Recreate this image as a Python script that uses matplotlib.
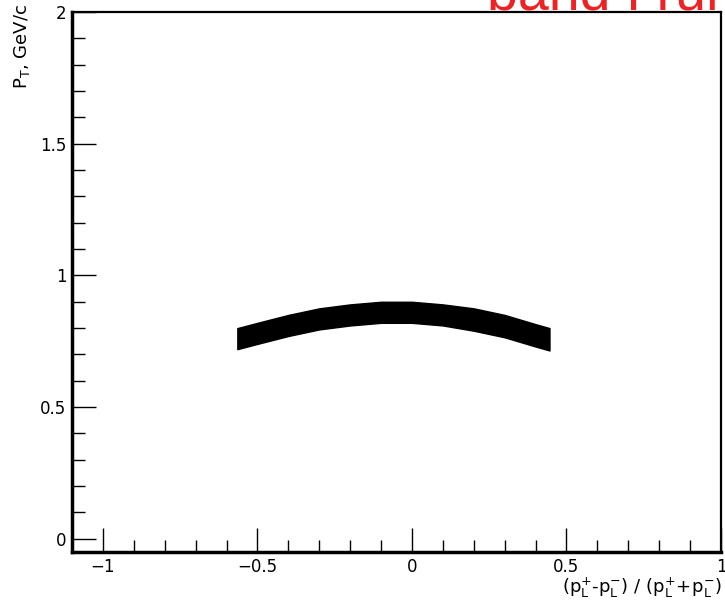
import matplotlib
matplotlib.use("Agg")
import matplotlib.pyplot as plt
from matplotlib.ticker import MultipleLocator

plt.rcParams['font.family'] = ['DejaVu Sans']
plt.rcParams['mathtext.fontset'] = 'dejavusans'

# Band edges (alpha vs pT)
alpha = [-0.565, -0.5, -0.4, -0.3, -0.2, -0.1, 0.0, 0.1, 0.2, 0.3, 0.4, 0.445]
pt_upper = [0.80, 0.82, 0.85, 0.875, 0.89, 0.90, 0.90, 0.89, 0.875, 0.85, 0.815, 0.80]
pt_lower = [0.72, 0.74, 0.77, 0.795, 0.81, 0.82, 0.82, 0.81, 0.79, 0.765, 0.73, 0.715]

x_ticks = [-1, -0.5, 0, 0.5, 1]
x_tick_labels = ['\u22121', '\u22120.5', '0', '0.5', '1']
y_ticks = [0, 0.5, 1, 1.5, 2]
y_tick_labels = ['0', '0.5', '1', '1.5', '2']

fig = plt.figure(figsize=(7.25, 6.03), dpi=100)
ax = fig.add_axes([72/725, 1 - 552/603, (721 - 72)/725, (552 - 12)/603])

ax.fill_between(alpha, pt_lower, pt_upper, color='black', linewidth=1.0, edgecolor='black')

ax.set_xlim(-1.1, 1.0)
ax.set_ylim(-0.05, 2.0)

ax.set_xticks(x_ticks)
ax.set_xticklabels(x_tick_labels, fontsize=12)
ax.set_yticks(y_ticks)
ax.set_yticklabels(y_tick_labels, fontsize=12)
ax.xaxis.set_minor_locator(MultipleLocator(0.1))
ax.yaxis.set_minor_locator(MultipleLocator(0.1))
ax.tick_params(which='both', direction='in', top=False, right=False, width=1, color='black')
ax.tick_params(which='major', length=17)
ax.tick_params(which='minor', length=9)
ax.tick_params(axis='x', which='major', pad=4)
ax.tick_params(axis='y', which='major', pad=4)

ax.spines['left'].set_linewidth(2.5)
ax.spines['bottom'].set_linewidth(2.5)
ax.spines['top'].set_linewidth(1.6)
ax.spines['right'].set_linewidth(1.6)

fig.text(722/725, 3/603, r'$\mathregular{(p_L^{+}}$-$\mathregular{p_L^{-})\ /\ (p_L^{+}\!+\!p_L^{-})}$',
         ha='right', va='bottom', fontsize=13)
fig.text(22/725, 1 - 4/603, r'$\mathregular{P_T}$, GeV/c', rotation=90, ha='center', va='top', fontsize=13)

fig.text(487/725, 1 - 10/603, 'band I run', color='#ee2222', fontsize=40,
         family='Liberation Sans', ha='left', va='baseline')

fig.savefig('out.png', dpi=100)
